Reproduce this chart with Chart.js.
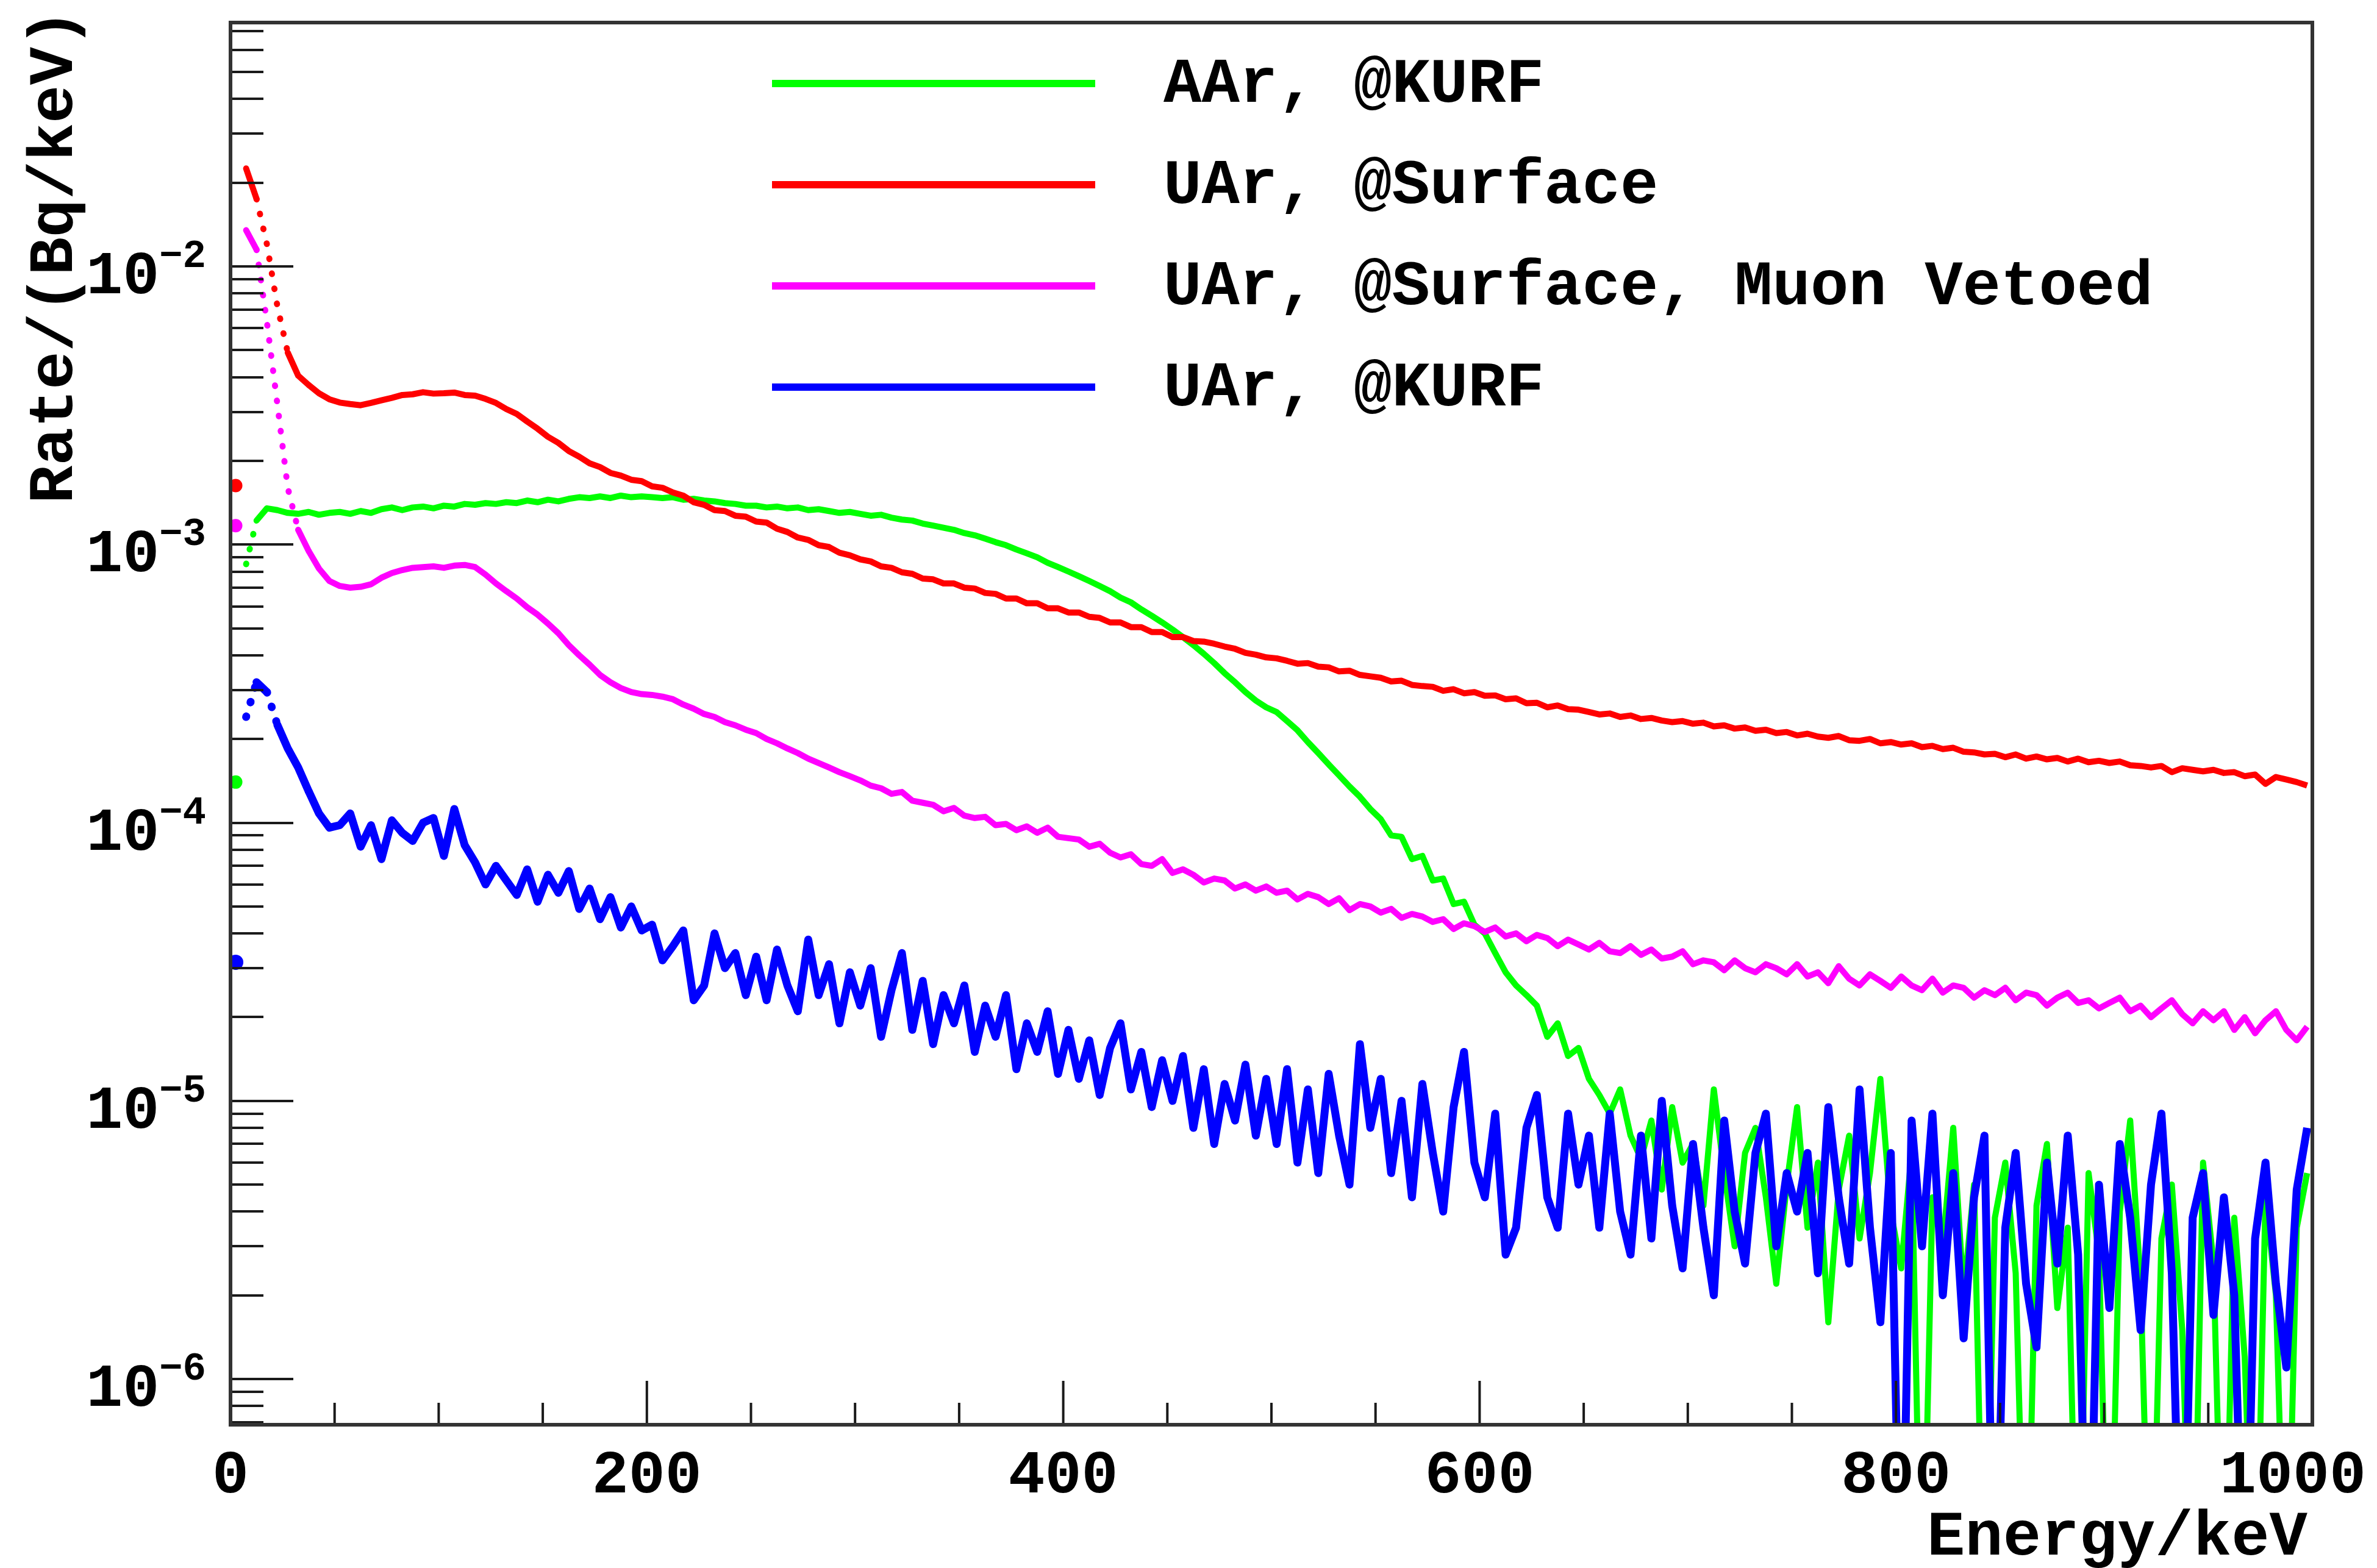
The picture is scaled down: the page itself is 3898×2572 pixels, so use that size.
<!DOCTYPE html>
<html>
<head>
<meta charset="utf-8">
<title>Rate vs Energy</title>
<script src="https://cdn.jsdelivr.net/npm/chart.js@4.4.0/dist/chart.umd.min.js"></script>
<style>
  html, body { margin: 0; padding: 0; background: #fff; }
  canvas { display: block; }
</style>
</head>
<body>
<canvas id="spectre" width="3898" height="2572" style="width:3898px;height:2572px"></canvas>
<script>
// 200 bins of 5 keV, 0 - 1000 keV
const binWidth = 5;
const nBins = 200;
const energy = [];
for (let i = 0; i < nBins; i++) energy.push(binWidth / 2 + i * binWidth);

const seriesLabels = ["AAr, @KURF", "UAr, @Surface", "UAr, @Surface, Muon Vetoed", "UAr, @KURF"];

// Rate in Bq/keV (0 = empty bin)
const aarKurf = [
  1.4e-4, 8.5e-4, 1.22e-3, 1.35e-3, 1.33e-3, 1.3e-3, 1.29e-3, 1.31e-3, 1.28e-3, 1.3e-3,
  1.31e-3, 1.29e-3, 1.32e-3, 1.3e-3, 1.34e-3, 1.36e-3, 1.33e-3, 1.36e-3, 1.37e-3, 1.35e-3,
  1.38e-3, 1.37e-3, 1.4e-3, 1.39e-3, 1.41e-3, 1.4e-3, 1.42e-3, 1.41e-3, 1.44e-3, 1.42e-3,
  1.45e-3, 1.43e-3, 1.46e-3, 1.48e-3, 1.47e-3, 1.49e-3, 1.47e-3, 1.5e-3, 1.48e-3, 1.49e-3,
  1.48e-3, 1.47e-3, 1.48e-3, 1.45e-3, 1.46e-3, 1.44e-3, 1.43e-3, 1.41e-3, 1.4e-3, 1.38e-3,
  1.38e-3, 1.36e-3, 1.37e-3, 1.35e-3, 1.36e-3, 1.33e-3, 1.34e-3, 1.32e-3, 1.3e-3, 1.31e-3,
  1.29e-3, 1.27e-3, 1.28e-3, 1.25e-3, 1.23e-3, 1.22e-3, 1.19e-3, 1.17e-3, 1.15e-3, 1.13e-3,
  1.1e-3, 1.08e-3, 1.05e-3, 1.02e-3, 9.95e-4, 9.6e-4, 9.3e-4, 9.0e-4, 8.6e-4, 8.3e-4,
  8.0e-4, 7.7e-4, 7.4e-4, 7.1e-4, 6.8e-4, 6.45e-4, 6.2e-4, 5.85e-4, 5.55e-4, 5.25e-4,
  4.95e-4, 4.65e-4, 4.35e-4, 4.05e-4, 3.75e-4, 3.45e-4, 3.2e-4, 2.95e-4, 2.75e-4, 2.6e-4,
  2.5e-4, 2.32e-4, 2.15e-4, 1.95e-4, 1.78e-4, 1.62e-4, 1.48e-4, 1.35e-4, 1.24e-4, 1.12e-4,
  1.03e-4, 9.0e-5, 8.9e-5, 7.4e-5, 7.6e-5, 6.2e-5, 6.3e-5, 5.1e-5, 5.2e-5, 4.3e-5,
  4.0e-5, 3.4e-5, 2.9e-5, 2.6e-5, 2.4e-5, 2.2e-5, 1.7e-5, 1.9e-5, 1.45e-5, 1.55e-5,
  1.2e-5, 1.05e-5, 9.0e-6, 1.1e-5, 7.5e-6, 6.2e-6, 8.5e-6, 4.8e-6, 9.5e-6, 6.0e-6,
  7.0e-6, 4.2e-6, 1.1e-5, 5.5e-6, 3.0e-6, 6.5e-6, 8.0e-6, 4.5e-6, 2.2e-6, 5.0e-6,
  9.5e-6, 3.5e-6, 6.0e-6, 1.6e-6, 4.8e-6, 7.5e-6, 3.2e-6, 5.5e-6, 1.2e-5, 4.0e-6,
  2.5e-6, 6.5e-6, 0, 4.5e-6, 3.0e-6, 8.0e-6, 2.0e-6, 5.0e-6, 0, 3.8e-6,
  6.0e-6, 2.4e-6, 0, 4.2e-6, 7.0e-6, 1.8e-6, 3.5e-6, 0, 5.5e-6, 2.8e-6,
  0, 4.0e-6, 8.5e-6, 2.2e-6, 0, 3.2e-6, 5.0e-6, 1.5e-6, 0, 6.0e-6,
  2.6e-6, 0, 3.8e-6, 1.2e-6, 0, 4.5e-6, 2.0e-6, 0, 3.5e-6, 5.5e-6
];

const uarSurface = [
  1.63e-3, 2.25e-2, 1.75e-2, 1.2e-2, 7.2e-3, 4.9e-3, 4.05e-3, 3.75e-3, 3.5e-3, 3.33e-3,
  3.24e-3, 3.2e-3, 3.17e-3, 3.23e-3, 3.3e-3, 3.37e-3, 3.45e-3, 3.47e-3, 3.53e-3, 3.49e-3,
  3.5e-3, 3.52e-3, 3.45e-3, 3.43e-3, 3.34e-3, 3.23e-3, 3.07e-3, 2.95e-3, 2.77e-3, 2.61e-3,
  2.44e-3, 2.32e-3, 2.17e-3, 2.07e-3, 1.96e-3, 1.9e-3, 1.81e-3, 1.77e-3, 1.71e-3, 1.69e-3,
  1.62e-3, 1.6e-3, 1.54e-3, 1.5e-3, 1.42e-3, 1.39e-3, 1.33e-3, 1.32e-3, 1.27e-3, 1.26e-3,
  1.21e-3, 1.2e-3, 1.14e-3, 1.11e-3, 1.06e-3, 1.04e-3, 9.95e-4, 9.8e-4, 9.35e-4, 9.15e-4,
  8.85e-4, 8.7e-4, 8.35e-4, 8.25e-4, 7.95e-4, 7.85e-4, 7.55e-4, 7.5e-4, 7.25e-4, 7.25e-4,
  7.0e-4, 6.95e-4, 6.7e-4, 6.65e-4, 6.4e-4, 6.4e-4, 6.15e-4, 6.15e-4, 5.9e-4, 5.9e-4,
  5.7e-4, 5.7e-4, 5.5e-4, 5.45e-4, 5.25e-4, 5.25e-4, 5.05e-4, 5.05e-4, 4.85e-4, 4.85e-4,
  4.65e-4, 4.65e-4, 4.5e-4, 4.48e-4, 4.4e-4, 4.3e-4, 4.22e-4, 4.08e-4, 4.02e-4, 3.93e-4,
  3.9e-4, 3.82e-4, 3.73e-4, 3.75e-4, 3.64e-4, 3.62e-4, 3.5e-4, 3.52e-4, 3.4e-4, 3.36e-4,
  3.32e-4, 3.22e-4, 3.24e-4, 3.13e-4, 3.1e-4, 3.08e-4, 2.98e-4, 3.02e-4, 2.92e-4, 2.95e-4,
  2.86e-4, 2.87e-4, 2.78e-4, 2.8e-4, 2.69e-4, 2.7e-4, 2.6e-4, 2.64e-4, 2.56e-4, 2.55e-4,
  2.5e-4, 2.45e-4, 2.47e-4, 2.4e-4, 2.43e-4, 2.36e-4, 2.38e-4, 2.33e-4, 2.3e-4, 2.32e-4,
  2.27e-4, 2.29e-4, 2.22e-4, 2.24e-4, 2.18e-4, 2.2e-4, 2.14e-4, 2.16e-4, 2.1e-4, 2.12e-4,
  2.06e-4, 2.09e-4, 2.04e-4, 2.02e-4, 2.05e-4, 1.98e-4, 1.97e-4, 2.0e-4, 1.93e-4, 1.95e-4,
  1.91e-4, 1.93e-4, 1.87e-4, 1.89e-4, 1.84e-4, 1.86e-4, 1.8e-4, 1.79e-4, 1.76e-4, 1.77e-4,
  1.72e-4, 1.76e-4, 1.7e-4, 1.73e-4, 1.69e-4, 1.71e-4, 1.66e-4, 1.7e-4, 1.65e-4, 1.67e-4,
  1.64e-4, 1.66e-4, 1.61e-4, 1.6e-4, 1.58e-4, 1.6e-4, 1.52e-4, 1.57e-4, 1.55e-4, 1.53e-4,
  1.55e-4, 1.51e-4, 1.52e-4, 1.47e-4, 1.49e-4, 1.38e-4, 1.46e-4, 1.43e-4, 1.4e-4, 1.36e-4
];

const uarSurfaceVeto = [
  1.17e-3, 1.35e-2, 1.15e-2, 6.3e-3, 3.2e-3, 1.6e-3, 1.13e-3, 9.5e-4, 8.2e-4, 7.4e-4,
  7.1e-4, 7.0e-4, 7.05e-4, 7.2e-4, 7.6e-4, 7.9e-4, 8.1e-4, 8.25e-4, 8.3e-4, 8.35e-4,
  8.25e-4, 8.4e-4, 8.45e-4, 8.3e-4, 7.8e-4, 7.25e-4, 6.8e-4, 6.4e-4, 5.95e-4, 5.6e-4,
  5.2e-4, 4.8e-4, 4.35e-4, 4.0e-4, 3.7e-4, 3.4e-4, 3.2e-4, 3.05e-4, 2.95e-4, 2.9e-4,
  2.88e-4, 2.84e-4, 2.78e-4, 2.66e-4, 2.57e-4, 2.46e-4, 2.4e-4, 2.3e-4, 2.24e-4, 2.16e-4,
  2.1e-4, 2.0e-4, 1.93e-4, 1.85e-4, 1.78e-4, 1.7e-4, 1.64e-4, 1.58e-4, 1.52e-4, 1.47e-4,
  1.42e-4, 1.36e-4, 1.33e-4, 1.27e-4, 1.29e-4, 1.2e-4, 1.18e-4, 1.16e-4, 1.1e-4, 1.13e-4,
  1.06e-4, 1.04e-4, 1.05e-4, 9.8e-5, 9.9e-5, 9.4e-5, 9.7e-5, 9.2e-5, 9.6e-5, 8.9e-5,
  8.8e-5, 8.7e-5, 8.2e-5, 8.4e-5, 7.8e-5, 7.5e-5, 7.7e-5, 7.1e-5, 7.0e-5, 7.4e-5,
  6.6e-5, 6.8e-5, 6.5e-5, 6.1e-5, 6.3e-5, 6.2e-5, 5.8e-5, 6.0e-5, 5.7e-5, 5.9e-5,
  5.6e-5, 5.7e-5, 5.3e-5, 5.55e-5, 5.4e-5, 5.1e-5, 5.35e-5, 4.85e-5, 5.1e-5, 5.0e-5,
  4.75e-5, 4.9e-5, 4.55e-5, 4.7e-5, 4.6e-5, 4.4e-5, 4.5e-5, 4.15e-5, 4.35e-5, 4.25e-5,
  4.05e-5, 4.2e-5, 3.9e-5, 4.0e-5, 3.75e-5, 3.95e-5, 3.85e-5, 3.6e-5, 3.8e-5, 3.65e-5,
  3.5e-5, 3.7e-5, 3.45e-5, 3.4e-5, 3.6e-5, 3.35e-5, 3.5e-5, 3.25e-5, 3.3e-5, 3.45e-5,
  3.1e-5, 3.2e-5, 3.15e-5, 2.95e-5, 3.2e-5, 3.0e-5, 2.9e-5, 3.1e-5, 3.0e-5, 2.85e-5,
  3.1e-5, 2.8e-5, 2.9e-5, 2.65e-5, 3.05e-5, 2.75e-5, 2.6e-5, 2.85e-5, 2.7e-5, 2.55e-5,
  2.8e-5, 2.6e-5, 2.5e-5, 2.75e-5, 2.45e-5, 2.6e-5, 2.55e-5, 2.35e-5, 2.5e-5, 2.4e-5,
  2.55e-5, 2.3e-5, 2.45e-5, 2.4e-5, 2.2e-5, 2.35e-5, 2.45e-5, 2.25e-5, 2.3e-5, 2.15e-5,
  2.25e-5, 2.35e-5, 2.1e-5, 2.2e-5, 2.0e-5, 2.15e-5, 2.3e-5, 2.05e-5, 1.9e-5, 2.1e-5,
  1.95e-5, 2.1e-5, 1.8e-5, 2.0e-5, 1.75e-5, 1.95e-5, 2.1e-5, 1.8e-5, 1.65e-5, 1.85e-5
];

const uarKurf = [
  3.15e-5, 2.4e-4, 3.2e-4, 2.95e-4, 2.25e-4, 1.85e-4, 1.58e-4, 1.3e-4, 1.08e-4, 9.6e-5,
  9.8e-5, 1.08e-4, 8.2e-5, 9.8e-5, 7.4e-5, 1.02e-4, 9.2e-5, 8.6e-5, 1.0e-4, 1.04e-4,
  7.6e-5, 1.12e-4, 8.3e-5, 7.2e-5, 6.0e-5, 7.0e-5, 6.2e-5, 5.5e-5, 6.8e-5, 5.2e-5,
  6.5e-5, 5.6e-5, 6.7e-5, 4.9e-5, 5.8e-5, 4.5e-5, 5.4e-5, 4.2e-5, 5.0e-5, 4.1e-5,
  4.3e-5, 3.2e-5, 3.6e-5, 4.1e-5, 2.3e-5, 2.6e-5, 4.0e-5, 3.0e-5, 3.4e-5, 2.4e-5,
  3.3e-5, 2.3e-5, 3.5e-5, 2.6e-5, 2.1e-5, 3.8e-5, 2.4e-5, 3.1e-5, 1.9e-5, 2.9e-5,
  2.2e-5, 3.0e-5, 1.7e-5, 2.5e-5, 3.4e-5, 1.8e-5, 2.7e-5, 1.6e-5, 2.4e-5, 1.9e-5,
  2.6e-5, 1.5e-5, 2.2e-5, 1.7e-5, 2.4e-5, 1.3e-5, 1.9e-5, 1.5e-5, 2.1e-5, 1.25e-5,
  1.8e-5, 1.2e-5, 1.65e-5, 1.05e-5, 1.55e-5, 1.9e-5, 1.1e-5, 1.5e-5, 9.5e-6, 1.4e-5,
  1.0e-5, 1.45e-5, 8.0e-6, 1.3e-5, 7.0e-6, 1.15e-5, 8.5e-6, 1.35e-5, 7.5e-6, 1.2e-5,
  7.0e-6, 1.3e-5, 6.0e-6, 1.1e-5, 5.5e-6, 1.25e-5, 7.5e-6, 5.0e-6, 1.6e-5, 8.0e-6,
  1.2e-5, 5.5e-6, 1.0e-5, 4.5e-6, 1.15e-5, 6.5e-6, 4.0e-6, 9.5e-6, 1.5e-5, 6.0e-6,
  4.5e-6, 9.0e-6, 2.8e-6, 3.5e-6, 8.0e-6, 1.05e-5, 4.5e-6, 3.5e-6, 9.0e-6, 5.0e-6,
  7.5e-6, 3.5e-6, 9.0e-6, 4.0e-6, 2.8e-6, 7.5e-6, 3.2e-6, 1.0e-5, 4.2e-6, 2.5e-6,
  7.0e-6, 3.5e-6, 2.0e-6, 8.5e-6, 4.0e-6, 2.6e-6, 6.5e-6, 9.0e-6, 3.0e-6, 5.5e-6,
  4.0e-6, 6.5e-6, 2.4e-6, 9.5e-6, 4.5e-6, 2.6e-6, 1.1e-5, 3.5e-6, 1.6e-6, 6.5e-6,
  0, 8.5e-6, 3.0e-6, 9.0e-6, 2.0e-6, 5.5e-6, 1.4e-6, 4.5e-6, 7.5e-6, 0,
  3.5e-6, 6.5e-6, 2.2e-6, 1.3e-6, 6.0e-6, 2.6e-6, 7.5e-6, 2.8e-6, 0, 5.0e-6,
  1.8e-6, 7.0e-6, 3.8e-6, 1.5e-6, 5.0e-6, 9.0e-6, 2.4e-6, 0, 3.8e-6, 5.5e-6,
  1.7e-6, 4.5e-6, 2.0e-6, 0, 3.2e-6, 6.0e-6, 2.2e-6, 1.1e-6, 4.8e-6, 8.0e-6
];

// axis ticks
const xTickLabels = [0, 200, 400, 600, 800, 1000];
const yDecades = [-2, -3, -4, -5, -6];

const yMin = 6.85e-7;
const yMax = 7.53e-2;
// empty bins are drawn below the axis, like ROOT does on a log scale
const offScale = 1e-7;

function toPoints(vals) {
  return energy.map(function (e, i) {
    return { x: e, y: vals[i] > 0 ? vals[i] : offScale };
  });
}

const W = 3898;
const FONT = '"Liberation Mono", "DejaVu Sans Mono", monospace';

// the first points are single markers in the original, steep parts look dotted
const seg = {
  borderColor: function (c) { return c.p0DataIndex === 0 ? "rgba(0,0,0,0)" : undefined; },
  borderDash: function (c) {
    if (c.p0DataIndex > 0 && c.p0DataIndex < 7 && Math.abs(c.p1.y - c.p0.y) > 3 * Math.abs(c.p1.x - c.p0.x)) return [1, 24];
    return undefined;
  },
  borderCapStyle: function (c) {
    return (c.p0DataIndex > 0 && c.p0DataIndex < 7) ? "round" : undefined;
  }
};

const rootStyle = {
  id: "rootStyle",
  beforeDraw(chart) {
    const ctx = chart.ctx;
    ctx.save();
    ctx.fillStyle = "#ffffff";
    ctx.fillRect(0, 0, chart.width, chart.height);
    ctx.restore();
  },
  afterDatasetsDraw(chart) {
    const ctx = chart.ctx;
    const a = chart.chartArea;
    const xs = chart.scales.x;
    const ys = chart.scales.y;
    ctx.save();

    // ticks, drawn inwards
    ctx.strokeStyle = "#1a1a1a";
    ctx.lineWidth = 4;
    ctx.beginPath();
    for (let e = 0; e <= 1000; e += 50) {
      const px = xs.getPixelForValue(e);
      const len = e % 200 === 0 ? 72 : 36;
      ctx.moveTo(px, a.bottom);
      ctx.lineTo(px, a.bottom - len);
    }
    for (let k = -7; k <= -1; k++) {
      for (let m = 1; m <= 9; m++) {
        const v = m * Math.pow(10, k);
        if (v < ys.min || v > ys.max) continue;
        const py = Math.round(ys.getPixelForValue(v));
        const len = m === 1 ? 103 : 54;
        ctx.moveTo(a.left, py);
        ctx.lineTo(a.left + len, py);
      }
    }
    ctx.stroke();

    // frame
    ctx.strokeStyle = "#333333";
    ctx.lineWidth = 6;
    ctx.strokeRect(a.left, a.top, a.right - a.left, a.bottom - a.top);

    ctx.fillStyle = "#000000";
    ctx.textBaseline = "alphabetic";

    // y labels 10^-n
    ctx.textAlign = "right";
    yDecades.forEach(function (k) {
      const py = ys.getPixelForValue(Math.pow(10, k));
      const sup = "\u2212" + Math.abs(k);
      ctx.font = "bold 64px " + FONT;
      ctx.fillText(sup, 338, py + 1);
      const sw = ctx.measureText(sup).width;
      ctx.font = "bold 100px " + FONT;
      ctx.fillText("10", 338 - sw, py + 44);
    });

    // x labels
    ctx.font = "bold 100px " + FONT;
    ctx.textAlign = "center";
    xTickLabels.forEach(function (e) {
      let px = xs.getPixelForValue(e);
      const w = ctx.measureText(String(e)).width;
      if (px + w / 2 > W - 18) px = W - 18 - w / 2;
      ctx.fillText(String(e), px, 2448);
    });

    // axis titles
    ctx.font = "bold 104px " + FONT;
    ctx.textAlign = "right";
    ctx.fillText("Energy/keV", 3784, 2550);
    ctx.save();
    ctx.translate(118, 826);
    ctx.rotate(-Math.PI / 2);
    ctx.textAlign = "left";
    ctx.fillText("Rate/(Bq/keV)", 0, 0);
    ctx.restore();

    // legend
    chart.data.datasets.forEach(function (ds, i) {
      const ly = 137 + i * 166;
      ctx.strokeStyle = ds.borderColor;
      ctx.lineWidth = 12;
      ctx.beginPath();
      ctx.moveTo(1266, ly);
      ctx.lineTo(1796, ly);
      ctx.stroke();
      ctx.fillStyle = "#000000";
      ctx.font = "bold 104px " + FONT;
      ctx.textAlign = "left";
      ctx.fillText(ds.label, 1908, ly + 30);
    });

    ctx.restore();
  }
};

function firstDot(c) { return c.dataIndex === 0 ? 6 : 0; }

var spectre = new Chart(document.getElementById("spectre"), {
  type: "line",
  data: {
    datasets: [
      { label: seriesLabels[0], data: toPoints(aarKurf), borderColor: "#00ff00", pointBackgroundColor: "#00ff00", borderWidth: 10, order: 4 },
      { label: seriesLabels[1], data: toPoints(uarSurface), borderColor: "#ff0000", pointBackgroundColor: "#ff0000", borderWidth: 10, order: 3 },
      { label: seriesLabels[2], data: toPoints(uarSurfaceVeto), borderColor: "#ff00ff", pointBackgroundColor: "#ff00ff", borderWidth: 10, order: 2 },
      { label: seriesLabels[3], data: toPoints(uarKurf), borderColor: "#0000ff", pointBackgroundColor: "#0000ff", borderWidth: 13, order: 1 }
    ]
  },
  options: {
    responsive: false,
    animation: false,
    devicePixelRatio: 1,
    layout: { padding: { top: 37, right: 106, left: 0, bottom: 0 } },
    elements: {
      point: { radius: firstDot, hoverRadius: 0, borderWidth: 0 },
      line: { tension: 0, borderJoinStyle: "round", fill: false }
    },
    datasets: { line: { clip: 0, segment: seg } },
    plugins: { legend: { display: false }, tooltip: { enabled: false } },
    scales: {
      x: {
        type: "linear", min: 0, max: 1000,
        grid: { display: false }, border: { display: false }, ticks: { display: false },
        afterFit: function (s) { s.height = 235; }
      },
      y: {
        type: "logarithmic", min: yMin, max: yMax,
        grid: { display: false }, border: { display: false }, ticks: { display: false },
        afterFit: function (s) { s.width = 378; }
      }
    }
  },
  plugins: [rootStyle]
});
</script>
</body>
</html>
